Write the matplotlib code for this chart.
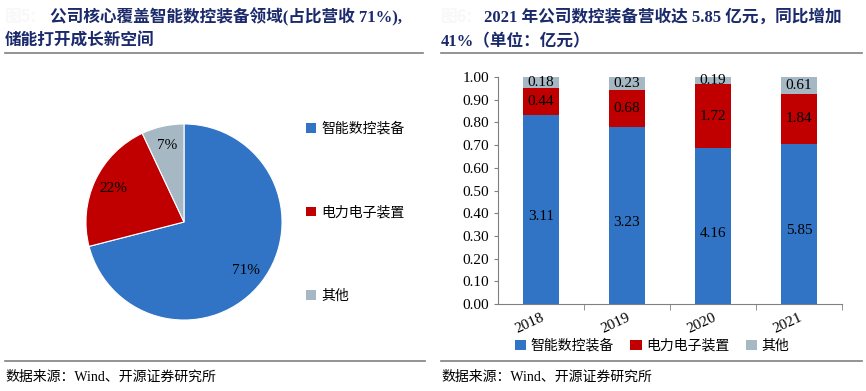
import numpy as np
import matplotlib
matplotlib.use("Agg")
import matplotlib.pyplot as plt
from matplotlib.lines import Line2D
from matplotlib.patches import Patch
from matplotlib.ticker import FormatStrFormatter

# data
segments = ["智能数控装备", "电力电子装置", "其他"]
pie_share = [71, 22, 7]
years = ["2018", "2019", "2020", "2021"]
cnc = [3.11, 3.23, 4.16, 5.85]
power = [0.44, 0.68, 1.72, 1.84]
other = [0.18, 0.23, 0.19, 0.61]

colors = ["#3174C5", "#C00000", "#A6B8C3"]
navy = "#1B2A6B"
serif = ["Liberation Serif", "Noto Sans CJK SC"]
cjk = ["Noto Sans CJK SC", "DejaVu Sans"]

W, H = 866, 391
fig = plt.figure(figsize=(W / 100, H / 100), dpi=100)


def fx(px):
    return px / W


def fy(py):
    return 1 - py / H


def hline(x0, x1, y, color="#808080", lw=1.2):
    fig.add_artist(Line2D([fx(x0), fx(x1)], [fy(y), fy(y)], color=color, lw=lw,
                          transform=fig.transFigure))


# titles
fig.text(fx(5), fy(17), "图5:", fontsize=12, color="#F8F8F8", family=cjk,
         fontweight="bold", va="center")
fig.text(fx(50), fy(17), "公司核心覆盖智能数控装备领域(占比营收 71%),", fontsize=12,
         color=navy, family=serif, fontweight="bold", va="center")
fig.text(fx(5), fy(42), "储能打开成长新空间", fontsize=12, color=navy,
         family=serif, fontweight="bold", va="center")
fig.text(fx(441), fy(17), "图6:", fontsize=12, color="#F8F8F8", family=cjk,
         fontweight="bold", va="center")
fig.text(fx(484), fy(17), "2021 年公司数控装备营收达 5.85 亿元，同比增加", fontsize=12,
         color=navy, family=serif, fontweight="bold", va="center")
fig.text(fx(441), fy(42), "41%（单位：亿元）", fontsize=12, color=navy,
         family=serif, fontweight="bold", va="center")
hline(5, 423, 53)
hline(441, 862, 53)

# footers
hline(5, 425, 361)
hline(441, 862, 361)
fig.text(fx(5), fy(377), "数据来源：Wind、开源证券研究所", fontsize=10, family=serif,
         va="center", color="black")
fig.text(fx(441), fy(377), "数据来源：Wind、开源证券研究所", fontsize=10, family=serif,
         va="center", color="black")

# pie
ax1 = fig.add_axes([fx(84), fy(322), fx(200), 200 / H])
wedges, _, autotexts = ax1.pie(pie_share, colors=colors, startangle=90, counterclock=False,
                               autopct="%d%%", pctdistance=0.8,
                               wedgeprops=dict(linewidth=0.8, edgecolor="white"))
for t in autotexts:
    t.set_family(serif)
    t.set_fontsize(11)
ax1.set_aspect("equal")
ax1.set_xlim(-1.02, 1.02)
ax1.set_ylim(-1.02, 1.02)

fig.legend([Patch(facecolor=c) for c in colors], segments, loc="upper left",
           bbox_to_anchor=(fx(306), fy(122)), frameon=False, prop={"family": cjk, "size": 10},
           handlelength=0.7, handleheight=0.7, handletextpad=0.4, labelspacing=5.0,
           borderaxespad=0, borderpad=0)

# stacked bars
ax2 = fig.add_axes([fx(498), fy(304), fx(344), 227 / H])
cnc = np.array(cnc)
power = np.array(power)
other = np.array(other)
total = cnc + power + other
x = np.arange(len(years))
bw = 0.43
b1 = cnc / total
b2 = power / total
b3 = other / total
ax2.bar(x, b1, bw, color=colors[0], label=segments[0])
ax2.bar(x, b2, bw, bottom=b1, color=colors[1], label=segments[1])
ax2.bar(x, b3, bw, bottom=b1 + b2, color=colors[2], label=segments[2])
for i in range(len(years)):
    ax2.text(x[i], b1[i] / 2 - 0.03, "%.2f" % cnc[i], ha="center", va="center",
             fontsize=11, family=serif)
    ax2.text(x[i], b1[i] + b2[i] / 2, "%.2f" % power[i], ha="center", va="center",
             fontsize=11, family=serif)
    ax2.text(x[i], b1[i] + b2[i] + b3[i] / 2, "%.2f" % other[i], ha="center", va="center",
             fontsize=11, family=serif)

ax2.set_xlim(-0.5, 3.5)
ax2.set_ylim(0, 1)
ax2.set_yticks(np.arange(0, 1.01, 0.1))
ax2.yaxis.set_major_formatter(FormatStrFormatter("%.2f"))
ax2.set_xticks(x)
ax2.set_xticklabels(years, rotation=25, ha="right", rotation_mode="anchor")
ax2.set_xticks(np.arange(0.5, 4, 1), minor=True)
ax2.tick_params(axis="x", which="major", length=0, pad=5)
ax2.tick_params(axis="x", which="minor", length=4, direction="out", color="#808080")
ax2.tick_params(axis="y", length=3, color="#808080")
for lab in ax2.get_xticklabels() + ax2.get_yticklabels():
    lab.set_family(serif)
    lab.set_fontsize(11)
for s in ["top", "right"]:
    ax2.spines[s].set_visible(False)
ax2.spines["left"].set_color("#808080")
ax2.spines["bottom"].set_color("#808080")

fig.legend([Patch(facecolor=c) for c in colors], segments, loc="center",
           bbox_to_anchor=(fx(652), fy(346)), ncol=3, frameon=False,
           prop={"family": cjk, "size": 10}, handlelength=0.8, handleheight=0.8,
           handletextpad=0.3, columnspacing=1.2, borderaxespad=0, borderpad=0)

fig.savefig("out.png", dpi=100)
